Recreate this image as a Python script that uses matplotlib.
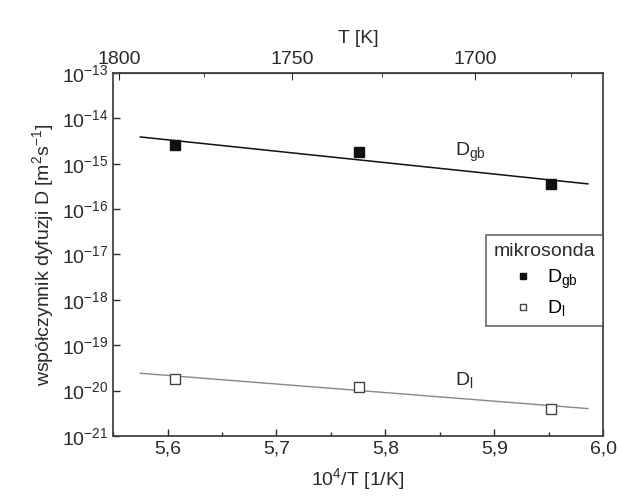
import matplotlib.pyplot as plt
from matplotlib.ticker import FixedLocator, MultipleLocator, FuncFormatter, LogLocator, NullLocator

plt.rcParams['font.family'] = ['Liberation Sans', 'DejaVu Sans']
plt.rcParams['mathtext.fontset'] = 'custom'
plt.rcParams['mathtext.rm'] = 'Liberation Sans'
plt.rcParams['mathtext.it'] = 'Liberation Sans'

# data
inv_T = [5.607, 5.776, 5.952]
D_gb = [2.6e-15, 1.82e-15, 3.6e-16]
D_l = [1.82e-20, 1.2e-20, 4.0e-21]

# fitted lines (end points)
fit_x = [5.575, 5.986]
fit_gb = [3.9e-15, 3.6e-16]
fit_l = [2.4e-20, 4.0e-21]

top_major = [1800, 1750, 1700]
top_minor = [1775, 1725, 1675]

ink = '#2a2a2a'

fig = plt.figure(figsize=(6.18, 4.97), dpi=100)
ax = fig.add_axes([0.183, 0.123, 0.793, 0.730])

ax.plot(fit_x, fit_gb, color='#111111', lw=1.1, zorder=2)
ax.plot(fit_x, fit_l, color='#888888', lw=1.0, zorder=2)
ax.plot(inv_T, D_gb, 's', color='#111111', ms=7, ls='none', label=r'$\mathregular{D_{gb}}$', zorder=3)
ax.plot(inv_T, D_l, 's', mfc='white', mec='#444444', mew=1.0, ms=7, ls='none', label=r'$\mathregular{D_{l}}$', zorder=3)

ax.text(5.864, 1.75e-15, r'$\mathregular{D_{gb}}$', fontsize=14, color=ink, va='center', ha='left')
ax.text(5.864, 1.7e-20, r'$\mathregular{D_{l}}$', fontsize=14, color=ink, va='center', ha='left')

ax.set_yscale('log')
ax.set_ylim(1e-21, 1e-13)
ax.set_xlim(5.55, 6.0)
ax.yaxis.set_major_locator(LogLocator(base=10, numticks=20))
ax.yaxis.set_minor_locator(NullLocator())
ax.xaxis.set_major_locator(MultipleLocator(0.1))
ax.xaxis.set_minor_locator(MultipleLocator(0.05))
ax.xaxis.set_major_formatter(FuncFormatter(lambda v, p: f'{v:.1f}'.replace('.', ',')))

ax.tick_params(direction='in', which='major', length=5, labelsize=14, colors=ink, width=1)
ax.tick_params(direction='in', which='minor', length=3, colors=ink, width=1)
for s in ax.spines.values():
    s.set_color('#444444')
    s.set_linewidth(1.3)

ax.set_xlabel(r'10$^4$/T [1/K]', fontsize=14, color=ink, labelpad=6)
ax.set_ylabel(r'współczynnik dyfuzji D [m$^2$s$^{-1}$]', fontsize=14, color=ink, labelpad=4)

top = ax.secondary_xaxis('top', functions=(lambda x: 1e4 / x, lambda t: 1e4 / t))
top.xaxis.set_major_locator(FixedLocator(top_major))
top.xaxis.set_minor_locator(FixedLocator(top_minor))
top.tick_params(direction='in', which='major', length=5, labelsize=14, colors=ink)
top.tick_params(direction='in', which='minor', length=3, colors=ink)
top.set_xlabel('T [K]', fontsize=14, color=ink, labelpad=6)

leg = ax.legend(title='mikrosonda', loc='upper right', bbox_to_anchor=(1.0, 0.554),
                borderaxespad=0, fontsize=14, title_fontsize=14, frameon=True,
                fancybox=False, edgecolor='#444444', handletextpad=0.6,
                handlelength=1.2, markerscale=0.7, labelspacing=0.4)
leg.get_frame().set_linewidth(1.2)
leg.get_title().set_color(ink)

fig.savefig('out.png', dpi=100)
